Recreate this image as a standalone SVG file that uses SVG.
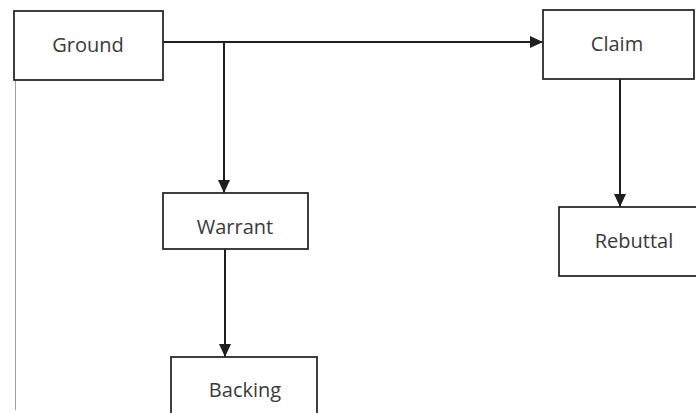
<svg xmlns="http://www.w3.org/2000/svg" width="696" height="413" viewBox="0 0 696 413">
<defs>
<style>
.box{fill:#fff;stroke:#2a2a2a;stroke-width:1.8}
.lbl{font-family:"Open Sans","Liberation Sans",sans-serif;font-size:20px;fill:#3a3a3a;text-anchor:middle;dominant-baseline:central}
.conn{stroke:#1e1e1e;stroke-width:2;fill:none}
</style>
<marker id="arr" viewBox="0 0 13 12" refX="13" refY="6" markerWidth="13" markerHeight="12" markerUnits="userSpaceOnUse" orient="auto">
<path d="M0,0 L13,6 L0,12 z" fill="#1e1e1e"/>
</marker>
</defs>
<rect width="696" height="413" fill="#fff"/>
<line x1="15.5" y1="80" x2="15.5" y2="410" stroke="#a0a0a0" stroke-width="1"/>
<g id="connectors">
<path class="conn" d="M163,42 L543,42" marker-end="url(#arr)"/>
<path class="conn" d="M224,42 L224,193" marker-end="url(#arr)"/>
<path class="conn" d="M620,79 L620,207" marker-end="url(#arr)"/>
<path class="conn" d="M225,249 L225,357" marker-end="url(#arr)"/>
</g>
<g id="ground"><rect class="box" x="14" y="11" width="149" height="69"/><text class="lbl" x="88" y="44">Ground</text></g>
<g id="claim"><rect class="box" x="543" y="10" width="151" height="69"/><text class="lbl" x="617" y="43">Claim</text></g>
<g id="warrant"><rect class="box" x="163" y="193" width="145" height="56"/><text class="lbl" x="235" y="226">Warrant</text></g>
<g id="rebuttal"><rect class="box" x="559" y="207" width="145" height="69"/><text class="lbl" x="634" y="240">Rebuttal</text></g>
<g id="backing"><rect class="box" x="171" y="357" width="146" height="70"/><text class="lbl" x="245" y="389">Backing</text></g>
</svg>
